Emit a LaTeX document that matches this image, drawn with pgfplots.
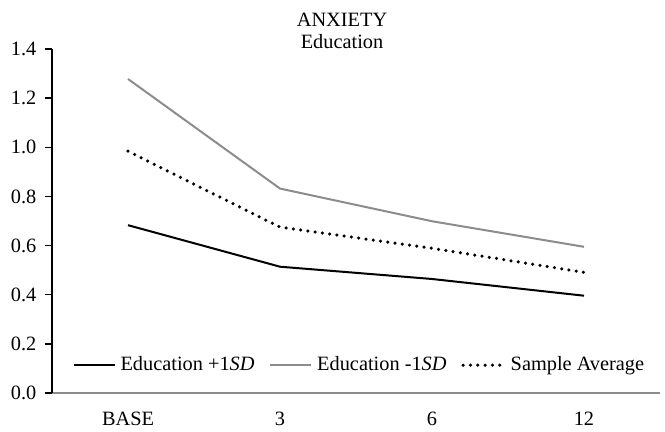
\documentclass[border=0pt]{standalone}
\usepackage{fontspec}
\setmainfont{Liberation Serif}
\usepackage{pgfplots}
\pgfplotsset{compat=1.18}
\definecolor{lgray}{HTML}{8C8C8C}
\begin{document}
\begin{tikzpicture}[font=\fontsize{12.2bp}{14bp}\selectfont]
\path[use as bounding box] (-31.2bp,-22.8bp) rectangle (367.8bp,235.8bp);
\begin{axis}[
  at={(0,0)}, anchor=south west,
  scale only axis,
  width=364.8bp, height=206.4bp,
  xmin=-0.5, xmax=3.5,
  ymin=0, ymax=1.4,
  axis lines=left,
  axis line style={-},
  x axis line style={lgray, line width=1.2bp},
  y axis line style={black, line width=0.8bp},
  xtick={0,1,2,3},
  xticklabels={BASE,3,6,12},
  xtick style={draw=none},
  ytick={0,0.2,...,1.4},
  yticklabel style={/pgf/number format/fixed, /pgf/number format/fixed zerofill, /pgf/number format/precision=1},
  /pgf/number format/assume math mode=true,
  tick align=outside,
  ytick style={black, line width=0.8bp},
  major tick length=4.2bp,
  yticklabel style={anchor=east, inner sep=0pt, xshift=-5bp},
  xticklabel style={anchor=base, inner sep=0pt, yshift=-15.0bp},
  clip=false,
  legend style={draw=none, fill=none, legend columns=3,
    at={(rel axis cs:0.508,0.081)}, anchor=center,
    /tikz/every even column/.append style={column sep=6bp},
    nodes={inner sep=2.9bp}},
  legend image code/.code={\draw[#1] (0bp,0bp) -- (24.6bp,0bp);},
]
\addplot[black, line width=1.2bp] coordinates {(0,0.683) (1,0.514) (2,0.464) (3,0.396)};
\addlegendentry{Education +1\textit{SD}}
\addplot[lgray, line width=1.2bp] coordinates {(0,1.278) (1,0.832) (2,0.699) (3,0.595)};
\addlegendentry{Education -1\textit{SD}}
\addplot[black, line width=2.1bp, line cap=round, dash pattern=on 0bp off 4.4bp] coordinates {(0,0.984) (1,0.675) (2,0.589) (3,0.491)};
\addlegendentry{Sample Average}
\node[anchor=base] at (rel axis cs:0.477,1.064) {ANXIETY};
\node[anchor=base] at (rel axis cs:0.477,1.0) {Education};
\end{axis}
\end{tikzpicture}
\end{document}
